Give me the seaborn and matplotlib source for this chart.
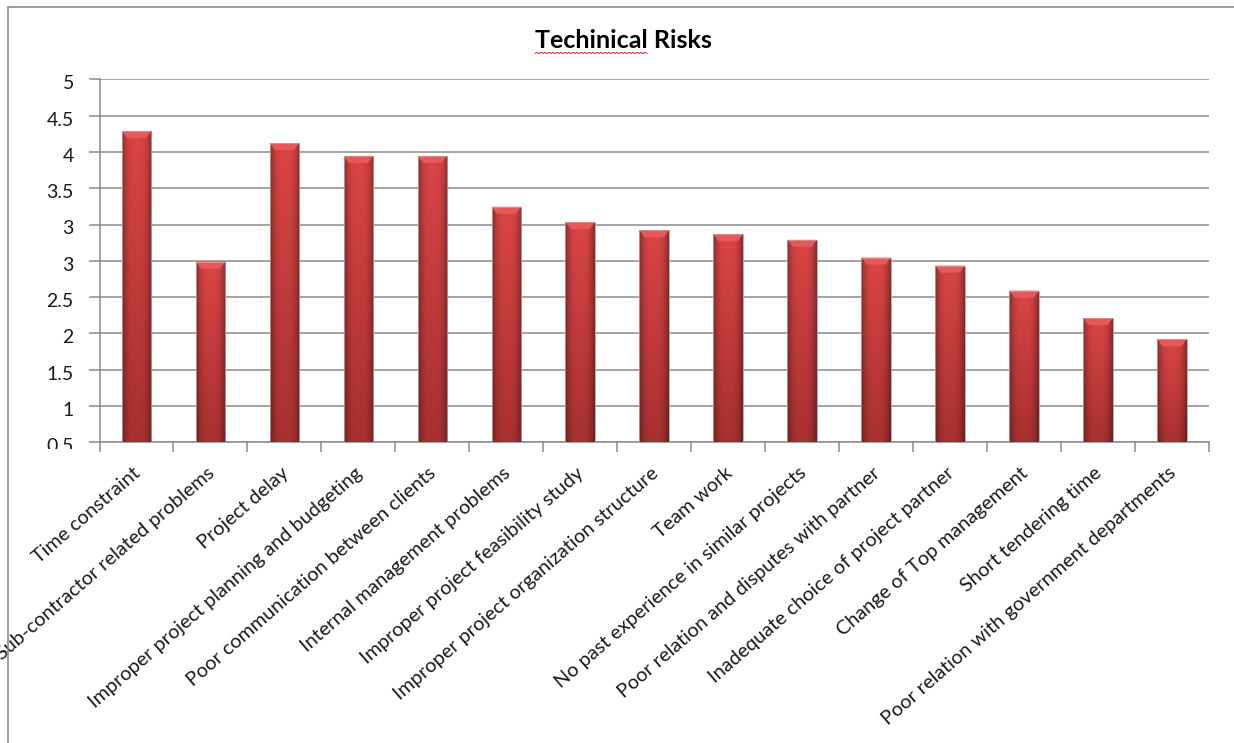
import numpy as np
import pandas as pd
import matplotlib
matplotlib.use("Agg")
import matplotlib.pyplot as plt
import seaborn as sns
from matplotlib.lines import Line2D
from matplotlib.patches import Polygon
from matplotlib.transforms import Bbox, TransformedBbox, ScaledTranslation

# Mean risk scores per technical risk factor
risks = [
    "Time constraint",
    "Sub-contractor related problems",
    "Project delay",
    "Improper project planning and budgeting",
    "Poor communication between clients",
    "Internal management problems",
    "Improper project feasibility study",
    "Improper project organization structure",
    "Team work",
    "No past experience in similar projects",
    "Poor relation and disputes with partner",
    "Inadequate choice of project partner",
    "Change of Top management",
    "Short tendering time",
    "Poor relation with government departments",
]
scores = [4.36, 2.74, 4.21, 4.05, 4.05, 3.42, 3.23, 3.13, 3.08, 3.01,
          2.79, 2.69, 2.38, 2.04, 1.78]

y_ticks = [0.5, 0.95, 1.4, 1.85, 2.3, 2.75, 3.2, 3.65, 4.1, 4.55, 5.0]
y_tick_labels = ["0.5", "1", "1.5", "2", "2.5", "3", "3", "3.5", "4", "4.5", "5"]

title = "Techinical Risks"

df = pd.DataFrame({"risk": risks, "score": scores})

sns.set_theme(style="white")
plt.rcParams["font.family"] = ["Lato", "DejaVu Sans"]

W, H = 1234, 743
fig = plt.figure(figsize=(W / 100, H / 100), dpi=100)
ax = fig.add_axes([99.5 / W, 1 - 442.3 / H, (1209 - 99.5) / W, (442.3 - 79.3) / H])

grid_col = "#8a8a8a"
ax.set_axisbelow(True)
ax.yaxis.grid(True, color=grid_col, linewidth=1.1)
ax.xaxis.grid(False)

sns.barplot(data=df, x="risk", y="score", color="#c83a3a", width=0.4,
            saturation=1, ax=ax, zorder=2)

Y0, Y1 = 0.5, 5.0
ax.set_ylim(Y0, Y1)
ax.set_xlim(-0.5, len(risks) - 0.5)
ax.set_yticks(y_ticks)
ax.set_yticklabels(y_tick_labels)
ax.set_xlabel("")
ax.set_ylabel("")

# Cylindrical shading on each bar
nx = 64
xs = np.linspace(0, 1, nx)
prof = 1 - 0.38 * (np.abs(xs - 0.5) * 2) ** 3
ny = 128
ys = np.linspace(0, 1, ny)[:, None]
top = np.array([0.86, 0.27, 0.27])
bot = np.array([0.66, 0.19, 0.19])
base = bot + (top - bot) * ys
img = np.clip(base[:, None, :] * prof[None, :, None], 0, 1)

inv = ax.transData.inverted()
for p in ax.patches:
    x0, y0 = p.get_x(), p.get_y()
    w, h = p.get_width(), p.get_height()
    y_top = y0 + h
    y_lo = max(y0, Y0)
    p.set_edgecolor("none")
    im = ax.imshow(img, extent=[x0, x0 + w, y_lo, y_top], origin="lower",
                   aspect="auto", zorder=3, interpolation="bilinear")
    im.set_clip_path(p)
    # light bevel at the top of the bar
    px0, py_top = ax.transData.transform((x0, y_top))
    _, py_b = inv.transform((px0, py_top - 7))
    inset = w * 0.18
    bevel = Polygon([[x0, y_top], [x0 + w, y_top], [x0 + w - inset, py_b],
                     [x0 + inset, py_b]], closed=True,
                    facecolor="#e45a5a", edgecolor="none", zorder=4)
    ax.add_patch(bevel)
    edge = Polygon([[x0, y_lo], [x0, y_top], [x0 + w, y_top], [x0 + w, y_lo]],
                   closed=False, fill=False, edgecolor="#b9a0a0",
                   linewidth=0.6, zorder=5)
    ax.add_patch(edge)

ax.set_xlim(-0.5, len(risks) - 0.5)
ax.set_ylim(Y0, Y1)

for s in ["top", "right"]:
    ax.spines[s].set_visible(False)
for s in ["left", "bottom"]:
    ax.spines[s].set_color(grid_col)
    ax.spines[s].set_linewidth(1.1)

# Category-boundary ticks on the x axis
ax.set_xticks(np.arange(len(risks)))
ax.set_xticks(np.arange(-0.5, len(risks), 1.0), minor=True)
ax.tick_params(axis="x", which="major", length=0, pad=0)
ax.tick_params(axis="x", which="minor", length=7, color=grid_col, width=1.1,
               direction="out", bottom=True)
ax.tick_params(axis="y", length=8, color=grid_col, width=1.1, direction="out",
               left=True, pad=10.5, labelsize=14, labelcolor="#1a1a1a")

xoff = ScaledTranslation(-4 / 100, -22 / 100, fig.dpi_scale_trans)
for lab in ax.get_xticklabels():
    lab.set_rotation(41)
    lab.set_ha("right")
    lab.set_va("top")
    lab.set_rotation_mode("anchor")
    lab.set_fontsize(14.3)
    lab.set_color("#1a1a1a")
    lab.set_transform(lab.get_transform() + xoff)

yoff = ScaledTranslation(0, -3 / 100, fig.dpi_scale_trans)
ylabs = ax.get_yticklabels()
for lab in ylabs:
    lab.set_transform(lab.get_transform() + yoff)

# The lowest y label is cut by the plot's lower edge
clip_bb = TransformedBbox(Bbox([[0, 1 - 449 / H], [1, 1]]), fig.transFigure)
ylabs[0].set_clip_box(clip_bb)
ylabs[0].set_clip_on(True)

# Title with spell-check underline under the first word
t = fig.text(623.5 / W, 1 - 41 / H, title, ha="center", va="center",
             fontsize=18, fontweight="bold", color="#000000")
fig.canvas.draw()
r = fig.canvas.get_renderer()
bb = t.get_window_extent(r)
tmp = fig.text(0, 0, title.split()[0], fontsize=18, fontweight="bold")
wb = tmp.get_window_extent(r)
tmp.remove()
xs_u = np.arange(bb.x0, bb.x0 + wb.width, 2.0)
ys_u = bb.y0 - 1 + np.where(np.arange(len(xs_u)) % 2 == 0, 0.0, 1.2)
fig.add_artist(Line2D(xs_u / W, ys_u / H, color="#e03030", linewidth=0.8,
                      transform=fig.transFigure))

# Chart area border
fig.add_artist(Line2D([8 / W, 8 / W], [0, 1 - 7 / H], color="#8c8c8c",
                      linewidth=1.2, transform=fig.transFigure))
fig.add_artist(Line2D([8 / W, 1], [1 - 7 / H, 1 - 7 / H], color="#8c8c8c",
                      linewidth=1.2, transform=fig.transFigure))

fig.savefig("out.png", dpi=100, facecolor="white")
